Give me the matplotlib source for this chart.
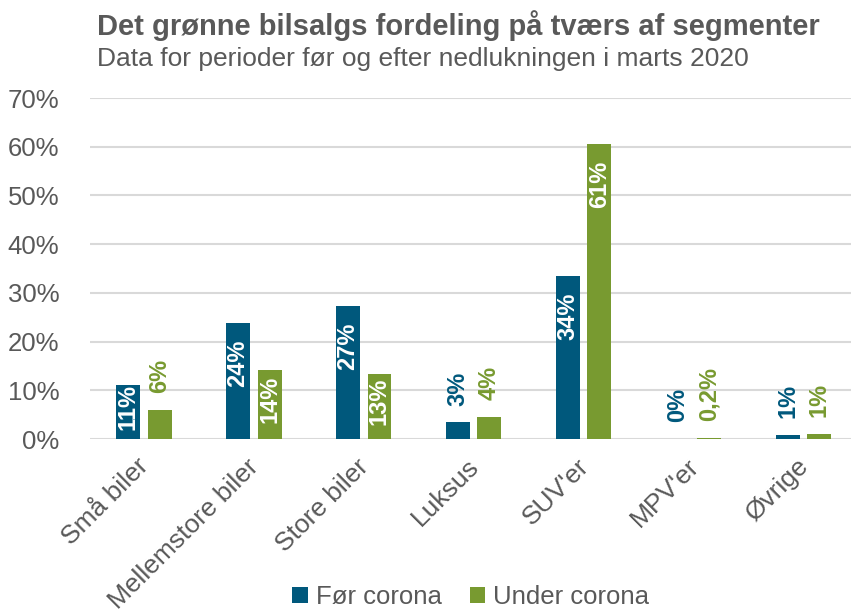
import matplotlib.pyplot as plt
import matplotlib.transforms as mtransforms
import numpy as np

plt.rcParams['font.family'] = ['Liberation Sans', 'DejaVu Sans']

categories = ['Små biler', 'Mellemstore biler', 'Store biler', 'Luksus',
              "SUV'er", "MPV'er", 'Øvrige']
foer = [11.0, 23.8, 27.4, 3.4, 33.5, 0.0, 0.8]
under = [6.0, 14.1, 13.3, 4.5, 60.6, 0.2, 1.0]
foer_labels = ['11%', '24%', '27%', '3%', '34%', '0%', '1%']
under_labels = ['6%', '14%', '13%', '4%', '61%', '0,2%', '1%']
yticks = [0, 10, 20, 30, 40, 50, 60, 70]

blue = '#00587C'
green = '#789A30'
grey = '#595959'

fig = plt.figure(figsize=(8.51, 6.13), dpi=100)
ax = fig.add_axes([0.1058, 0.2838, 0.8942, 0.5562])

x = np.arange(len(categories))
w = 0.218
off = 0.144
b1 = ax.bar(x - off, foer, w, color=blue, zorder=3, label='Før corona')
b2 = ax.bar(x + off, under, w, color=green, zorder=3, label='Under corona')


def add_labels(bars, values, labels, color):
    for bar, v, lab in zip(bars, values, labels):
        cx = bar.get_x() + bar.get_width() / 2
        if v >= 20:
            ax.annotate(lab, (cx, v), xytext=(0, -12), textcoords='offset points',
                        rotation=90, ha='center', va='top', color='white',
                        fontsize=17, fontweight='bold', zorder=4)
        elif v >= 10:
            ax.annotate(lab, (cx, v / 2), xytext=(0, 4), textcoords='offset points',
                        rotation=90, ha='center', va='center', color='white',
                        fontsize=17, fontweight='bold', zorder=4)
        else:
            ax.annotate(lab, (cx, v), xytext=(0, 12), textcoords='offset points',
                        rotation=90, ha='center', va='bottom', color=color,
                        fontsize=17, fontweight='bold', zorder=4)


add_labels(b1, foer, foer_labels, blue)
add_labels(b2, under, under_labels, green)

ax.set_xlim(-0.489, 6.433)
ax.set_ylim(0, 70)
ax.set_yticks(yticks)
ax.set_yticklabels([f'{t}%' for t in yticks])
ax.yaxis.grid(True, color='#D9D9D9', linewidth=1.5, zorder=0)
for s in ax.spines.values():
    s.set_visible(False)
ax.tick_params(axis='y', length=0, pad=22, labelsize=18.5, labelcolor=grey)
ax.tick_params(axis='x', length=0, pad=11, labelsize=19, labelcolor=grey)
ax.set_xticks(x)
ax.set_xticklabels(categories, rotation=45, ha='right', rotation_mode='anchor')
shift = mtransforms.ScaledTranslation(-7 / 100, 0, fig.dpi_scale_trans)
for lab in ax.get_xticklabels():
    lab.set_transform(lab.get_transform() + shift)

fig.text(0.114, 0.958, 'Det grønne bilsalgs fordeling på tværs af segmenter',
         fontsize=21, fontweight='bold', color=grey, va='center')
fig.text(0.114, 0.904, 'Data for perioder før og efter nedlukningen i marts 2020',
         fontsize=19, color=grey, va='center')

fig.legend(handles=[b1, b2], loc='center', bbox_to_anchor=(0.553, 0.026), ncol=2,
           frameon=False, fontsize=18.5, labelcolor=grey, handlelength=0.6,
           handleheight=0.6, handletextpad=0.3, columnspacing=1.1)

plt.savefig('out.png', dpi=100)
plt.close()
